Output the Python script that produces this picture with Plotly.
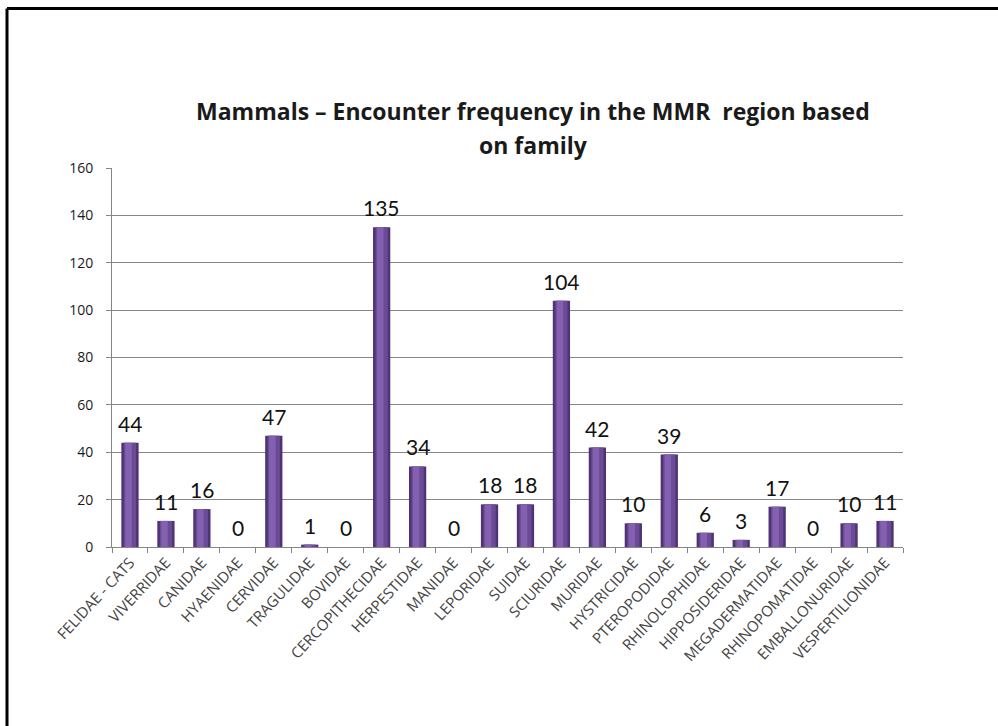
import plotly.graph_objects as go

families = [
    "FELIDAE - CATS", "VIVERRIDAE", "CANIDAE", "HYAENIDAE", "CERVIDAE",
    "TRAGULIDAE", "BOVIDAE", "CERCOPITHECIDAE", "HERPESTIDAE", "MANIDAE",
    "LEPORIDAE", "SUIDAE", "SCIURIDAE", "MURIDAE", "HYSTRICIDAE",
    "PTEROPODIDAE", "RHINOLOPHIDAE", "HIPPOSIDERIDAE", "MEGADERMATIDAE",
    "RHINOPOMATIDAE", "EMBALLONURIDAE", "VESPERTILIONIDAE",
]
encounters = [44, 11, 16, 0, 47, 1, 0, 135, 34, 0, 18, 18, 104, 42, 10,
              39, 6, 3, 17, 0, 10, 11]
y_ticks = [0, 20, 40, 60, 80, 100, 120, 140, 160]
title_lines = ["Mammals – Encounter frequency in the MMR  region based",
               "on family"]

W, H = 998, 726
L, R, T, B = 112, 95, 168, 179
PW, PH = W - L - R, H - T - B


def px_x(px):
    return (px - L) / PW


def px_y(py):
    return (H - B - py) / PH


fig = go.Figure()

# cylinder-like bars: dark body, lighter core, pale highlight
fig.add_trace(go.Bar(x=families, y=encounters, width=0.48,
                     marker=dict(color="#4f3474", line=dict(width=0)),
                     hoverinfo="skip"))
fig.add_trace(go.Bar(x=families, y=encounters, width=0.34,
                     marker=dict(color="#6b4a96", line=dict(width=0)),
                     hoverinfo="skip"))
fig.add_trace(go.Bar(x=families, y=encounters, width=0.18, offset=-0.13,
                     marker=dict(color="#8461b0", line=dict(width=0)),
                     hoverinfo="skip"))

for fam, v in zip(families, encounters):
    fig.add_annotation(x=fam, y=v, text=str(v), showarrow=False,
                       yanchor="bottom", yshift=5,
                       font=dict(family="Lato", size=21, color="#111111"))

# two-line chart title
for text, py in zip(title_lines, [111, 145]):
    fig.add_annotation(xref="paper", yref="paper", x=px_x(533), y=px_y(py),
                       xanchor="center", yanchor="middle", showarrow=False,
                       text=f"<b>{text}</b>",
                       font=dict(family="Open Sans", size=23, color="#1a1a1a"))

# outer frame (left and top edges)
fig.add_shape(type="line", xref="paper", yref="paper",
              x0=px_x(7), x1=px_x(W + 10), y0=px_y(8.5), y1=px_y(8.5),
              line=dict(color="black", width=3))
fig.add_shape(type="line", xref="paper", yref="paper",
              x0=px_x(7), x1=px_x(7), y0=px_y(8.5), y1=px_y(H + 10),
              line=dict(color="black", width=3))

fig.update_layout(
    width=W, height=H,
    margin=dict(l=L, r=R, t=T, b=B),
    paper_bgcolor="white", plot_bgcolor="white",
    barmode="overlay", showlegend=False,
    xaxis=dict(
        type="category", tickangle=-47, ticks="outside", ticklen=5,
        tickson="boundaries", tickcolor="#868686",
        showline=True, linecolor="#868686", linewidth=1,
        showgrid=False,
        tickfont=dict(family="Open Sans", size=15, color="#454545"),
    ),
    yaxis=dict(
        range=[0, 160], tickvals=y_ticks, ticks="outside", ticklen=5,
        tickcolor="#868686", showline=True, linecolor="#868686", linewidth=1,
        showgrid=True, gridcolor="#868686", gridwidth=1, zeroline=False,
        ticklabelstandoff=10,
        tickfont=dict(family="Open Sans", size=14, color="#1a1a1a"),
    ),
)

fig.write_html("out.html")
